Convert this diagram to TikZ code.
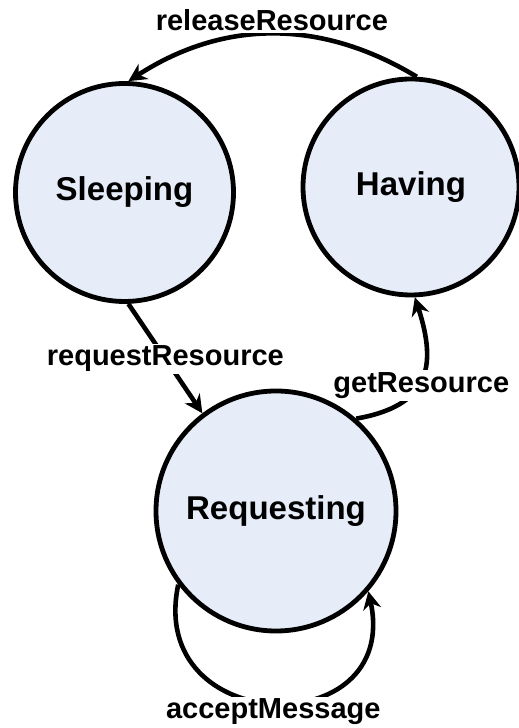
\documentclass[tikz,border=0pt]{standalone}
\usepackage{fontspec}
\setmainfont{Liberation Sans}
\usetikzlibrary{arrows.meta}
\definecolor{statefill}{RGB}{230,236,248}
\begin{document}
\begin{tikzpicture}[x=0.5pt,y=0.5pt,
	state/.style={draw, circle, line width=2.4pt, fill=statefill,
		inner sep=0pt, font=\fontsize{16.5}{19}\selectfont\bfseries},
	trans/.style={line width=2.3pt, -{Stealth[length=9pt,width=9pt]}},
	lbl/.style={fill=white, inner sep=1pt, font=\fontsize{14.5}{17}\selectfont\bfseries},
]
\useasboundingbox (0,0) rectangle (519,728);

%States
\node [state, minimum size=109pt] (sleep) at (124.5,535.5) {Sleeping};
\node [state, minimum size=108pt] (have) at (411,541) {Having};
\node [state, minimum size=120pt] (req) at (276,217) {Requesting};

%releaseResource
\draw[trans] (have.87) to[bend right=32]
	node[lbl, yshift=7pt] (relbl) {releaseResource} (sleep.88);

%requestResource
\draw[trans] (sleep.-88) -- node[lbl] (rqlbl) {requestResource} (req.127);

%getResource
\draw[trans] (req.49) to[out=10, in=-72, looseness=1.4]
	node[lbl, yshift=-3pt] (getlbl) {getResource} (have.-88);

%acceptMessage
\draw[trans] (req.217) to[out=258, in=282, looseness=2.1]
	node[lbl, yshift=-4.5pt] (acclbl) {acceptMessage} (req.-41);

\end{tikzpicture}
\end{document}
